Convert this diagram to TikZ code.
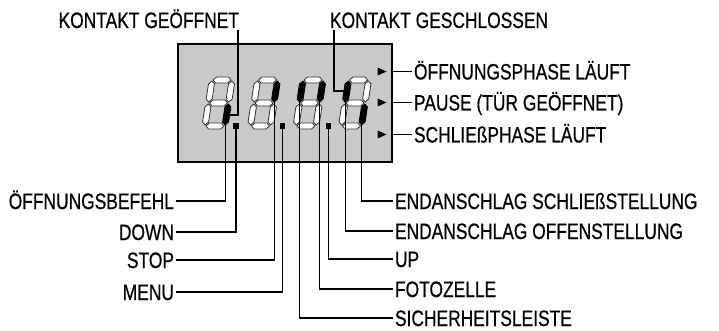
\documentclass[tikz,border=0pt]{standalone}
\usepackage{fontspec}
\setmainfont{Liberation Sans}[FakeStretch=0.78,FakeBold=0.6]
\newcommand\hseg[2]{\filldraw[#2] (4,#1) -- (7,#1+3) -- (19,#1+3) -- (22,#1) -- (19,#1-3) -- (7,#1-3) -- cycle;}
\newcommand\vseg[4]{\filldraw[#4] (#1,#2) -- (#1+3,#2+3) -- (#1+3,#3-3) -- (#1,#3) -- (#1-3,#3-3) -- (#1-3,#2+3) -- cycle;}
% #1 x0, #2..#8 styles a b c d e f g, #9 name prefix
\newcommand\digitat[9]{%
\begin{scope}[shift={(#1,129)}, y=1pt, xslant=0.155]
 \hseg{49}{#2}
 \vseg{23}{27}{48}{#3}
 \vseg{23}{4}{25}{#4}
 \hseg{3}{#5}
 \vseg{3}{4}{25}{#6}
 \vseg{3}{27}{48}{#7}
 \hseg{26}{#8}
 \coordinate (#9c) at (23,4);
 \coordinate (#9b) at (23,27);
 \coordinate (#9f) at (3,27);
 \coordinate (#9cR) at (26,14);
 \coordinate (#9fL) at (0,38);
\end{scope}}
\begin{document}
\begin{tikzpicture}[x=1pt,y=-1pt,
  lab/.style={font=\fontsize{22.3}{22}\selectfont, inner sep=0pt, outer sep=2pt, text height=16pt, text depth=0pt},
  conn/.style={line width=1.2pt},
  seg/.style={fill=white, draw=black!80, line width=0.8pt, line join=round},
  segon/.style={fill=black, draw=black, line width=0.8pt, line join=round},
  dpt/.style={fill=black, minimum size=5.5pt, inner sep=0pt},
  tri/.style={fill=black}]
\useasboundingbox (0,0) rectangle (719,331);
\fill[white] (0,0) rectangle (719,331);

\node[draw, line width=2.4pt, fill=black!21, minimum width=214pt, minimum height=118pt, inner sep=0pt] (disp) at (285,103) {};

\digitat{201.5}{seg}{seg}{segon}{seg}{seg}{seg}{seg}{d1}
\digitat{247}{seg}{segon}{seg}{seg}{seg}{seg}{seg}{d2}
\digitat{292.5}{seg}{segon}{seg}{seg}{seg}{segon}{seg}{d3}
\digitat{338}{seg}{seg}{segon}{seg}{seg}{segon}{seg}{d4}

\node[dpt] (p1) at (236,126) {};
\node[dpt] (p2) at (282.5,126) {};
\node[dpt] (p3) at (328.5,126) {};

\fill[tri] (377.5,67.5) -- (386.5,71.5) -- (377.5,75.5) -- cycle;
\fill[tri] (377.5,98.5) -- (386.5,102.5) -- (377.5,106.5) -- cycle;
\fill[tri] (377.5,130.5) -- (386.5,134.5) -- (377.5,138.5) -- cycle;

% top labels
\node[lab, anchor=south east] (kgo) at (241,30) {KONTAKT GEÖFFNET};
\node[lab, anchor=south west] (kgs) at (328,30) {KONTAKT GESCHLOSSEN};
\draw[conn] ([xshift=-3pt]kgo.south east) |- (d1cR);
\draw[conn] ([xshift=6pt]kgs.south west) |- (d4fL);

% right labels
\node[lab, anchor=west] (r1) at (412,71.5) {ÖFFNUNGSPHASE LÄUFT};
\node[lab, anchor=west] (r2) at (412,102.5) {PAUSE (TÜR GEÖFFNET)};
\node[lab, anchor=west] (r3) at (412,134.5) {SCHLIEßPHASE LÄUFT};
\draw[conn] (disp.east |- r1.west) -- (r1.west);
\draw[conn] (disp.east |- r2.west) -- (r2.west);
\draw[conn] (disp.east |- r3.west) -- (r3.west);

% bottom left labels
\node[lab, anchor=east] (l1) at (176,201) {ÖFFNUNGSBEFEHL};
\node[lab, anchor=east] (l2) at (176,232) {DOWN};
\node[lab, anchor=east] (l3) at (176,260) {STOP};
\node[lab, anchor=east] (l4) at (176,292) {MENU};
\draw[conn] (d1c) |- (l1.east);
\draw[conn] (p1.south) |- (l2.east);
\draw[conn] (d2b) |- (l3.east);
\draw[conn] (p2.south) |- (l4.east);

% bottom right labels
\node[lab, anchor=west] (b1) at (393,201) {ENDANSCHLAG SCHLIEßSTELLUNG};
\node[lab, anchor=west] (b2) at (393,231) {ENDANSCHLAG OFFENSTELLUNG};
\node[lab, anchor=west] (b3) at (393,259) {UP};
\node[lab, anchor=west] (b4) at (393,289) {FOTOZELLE};
\node[lab, anchor=west] (b5) at (393,318) {SICHERHEITSLEISTE};
\draw[conn] (d4c) |- (b1.west);
\draw[conn] (d4f) |- (b2.west);
\draw[conn] (p3.south) |- (b3.west);
\draw[conn] (d3b) |- (b4.west);
\draw[conn] (d3f) |- (b5.west);
\end{tikzpicture}
\end{document}
